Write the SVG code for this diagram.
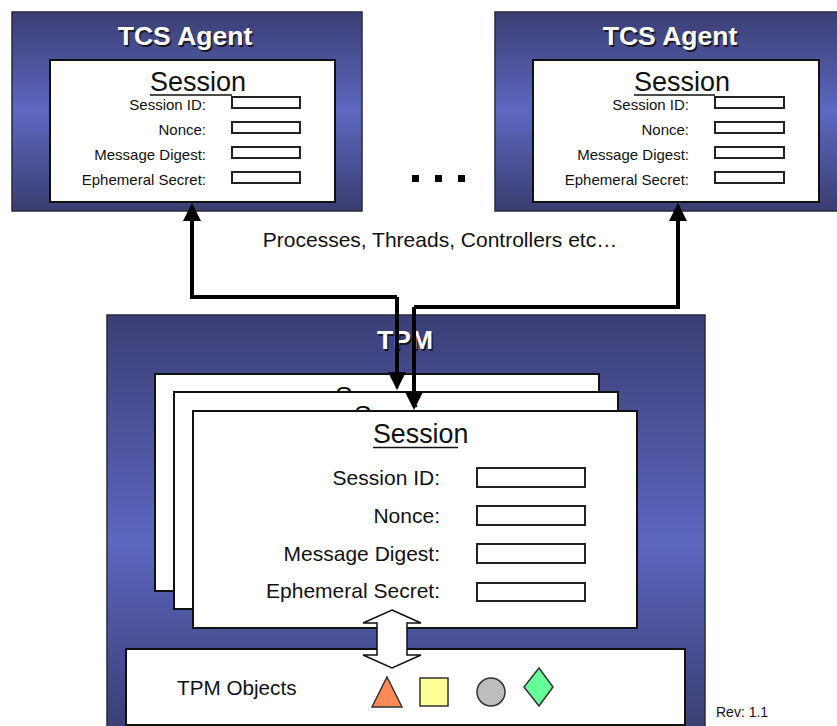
<svg xmlns="http://www.w3.org/2000/svg" width="837" height="726" viewBox="0 0 837 726">
  <defs>
    <linearGradient id="panelGrad" x1="0" y1="0" x2="0" y2="1">
      <stop offset="0" stop-color="#3a3e73"/>
      <stop offset="0.5" stop-color="#5d68c0"/>
      <stop offset="1" stop-color="#393d70"/>
    </linearGradient>
    <linearGradient id="tpmGrad" x1="0" y1="0" x2="0" y2="1">
      <stop offset="0" stop-color="#3b3f76"/>
      <stop offset="0.54" stop-color="#5b66bf"/>
      <stop offset="1" stop-color="#393d70"/>
    </linearGradient>
    <marker id="head" viewBox="0 0 10 10" refX="2.2" refY="5" markerWidth="18" markerHeight="18" orient="auto" markerUnits="userSpaceOnUse">
      <path d="M0,0 L10,5 L0,10 z" fill="#000"/>
    </marker>
  </defs>
  <style>
    .panel { stroke: #2a2a3a; stroke-width: 1.5; }
    .card { fill: #fff; stroke: #111; stroke-width: 2; }
    .field { fill: #fff; stroke: #222; stroke-width: 2; }
    .title { font-family: "Liberation Sans", Arial, sans-serif; font-weight: bold; font-size: 26.5px; text-anchor: middle; }
    .title-fg { fill: #fff; }
    .title-bg { fill: #1a1a22; }
    .sess { font-family: "Liberation Sans", Arial, sans-serif; fill: #111; }
    .lbl-s { font-family: "Liberation Sans", Arial, sans-serif; font-size: 15px; fill: #111; text-anchor: end; }
    .lbl-l { font-family: "Liberation Sans", Arial, sans-serif; font-size: 21px; fill: #111; text-anchor: end; }
    .ul { stroke: #111; stroke-width: 1.6; }
    .txt { font-family: "Liberation Sans", Arial, sans-serif; fill: #111; }
    .conn { fill: none; stroke: #000; stroke-width: 4; }
  </style>

  <!-- left agent -->
  <g id="agent-left">
    <rect class="panel" x="12" y="12" width="350" height="199" fill="url(#panelGrad)"/>
    <text class="title title-bg" x="186.5" y="46.5">TCS Agent</text>
    <text class="title title-fg" x="185" y="45">TCS Agent</text>
    <rect class="card" x="50" y="60" width="285" height="142"/>
    <text class="sess" x="150" y="91" font-size="27">Session</text>
    <line class="ul" x1="150" y1="95" x2="232" y2="95"/>
    <text class="lbl-s" x="206" y="110">Session ID:</text>
    <text class="lbl-s" x="206" y="135">Nonce:</text>
    <text class="lbl-s" x="206" y="160">Message Digest:</text>
    <text class="lbl-s" x="206" y="185">Ephemeral Secret:</text>
    <rect class="field" x="232" y="97" width="68" height="11"/>
    <rect class="field" x="232" y="122" width="68" height="11"/>
    <rect class="field" x="232" y="147" width="68" height="11"/>
    <rect class="field" x="232" y="172" width="68" height="11"/>
  </g>

  <!-- right agent -->
  <g id="agent-right">
    <rect class="panel" x="495" y="12" width="345" height="199" fill="url(#panelGrad)"/>
    <text class="title title-bg" x="671.5" y="46.5">TCS Agent</text>
    <text class="title title-fg" x="670" y="45">TCS Agent</text>
    <rect class="card" x="533" y="60" width="286" height="142"/>
    <text class="sess" x="634" y="91" font-size="27">Session</text>
    <line class="ul" x1="634" y1="95" x2="715" y2="95"/>
    <text class="lbl-s" x="689" y="110">Session ID:</text>
    <text class="lbl-s" x="689" y="135">Nonce:</text>
    <text class="lbl-s" x="689" y="160">Message Digest:</text>
    <text class="lbl-s" x="689" y="185">Ephemeral Secret:</text>
    <rect class="field" x="715" y="97" width="69" height="11"/>
    <rect class="field" x="715" y="122" width="69" height="11"/>
    <rect class="field" x="715" y="147" width="69" height="11"/>
    <rect class="field" x="715" y="172" width="69" height="11"/>
  </g>

  <!-- ellipsis between agents -->
  <g id="ellipsis" fill="#000">
    <rect x="412" y="175" width="7" height="7"/>
    <rect x="435" y="175" width="7" height="7"/>
    <rect x="458" y="175" width="7" height="7"/>
  </g>

  <g id="caption">
    <text class="txt" x="440" y="247" font-size="21" text-anchor="middle">Processes, Threads, Controllers etc…</text>
  </g>

  <!-- TPM -->
  <g id="tpm">
    <rect class="panel" x="107" y="315" width="598" height="420" fill="url(#tpmGrad)"/>
    <text class="title title-bg" x="406.5" y="350.5">TPM</text>
    <text class="title title-fg" x="405" y="349">TPM</text>
  </g>

  <g id="session-back-2">
    <rect class="card" x="155" y="374" width="444" height="217"/>
    <text class="sess" x="335" y="405" font-size="26.5">Session</text>
  </g>
  <g id="session-back-1">
    <rect class="card" x="174" y="392" width="444" height="217"/>
    <text class="sess" x="354" y="424" font-size="26.5">Session</text>
  </g>
  <g id="session-front">
    <rect class="card" x="193" y="411" width="444" height="217"/>
    <text class="sess" x="373" y="443" font-size="26.8">Session</text>
    <line class="ul" x1="373" y1="447.5" x2="458" y2="447.5"/>
    <text class="lbl-l" x="440" y="485">Session ID:</text>
    <text class="lbl-l" x="440" y="523">Nonce:</text>
    <text class="lbl-l" x="440" y="561">Message Digest:</text>
    <text class="lbl-l" x="440" y="598">Ephemeral Secret:</text>
    <rect class="field" x="477" y="468" width="108" height="19"/>
    <rect class="field" x="477" y="506" width="108" height="19"/>
    <rect class="field" x="477" y="544" width="108" height="19"/>
    <rect class="field" x="477" y="583" width="108" height="18"/>
  </g>

  <g id="tpm-objects">
    <rect class="card" x="126" y="649" width="559" height="76"/>
    <text class="txt" x="177" y="695" font-size="20.7">TPM Objects</text>
    <polygon points="387,677 402,707 372,707" fill="#fb8a55" stroke="#333" stroke-width="1.5"/>
    <rect x="420" y="678" width="28" height="28" fill="#ffff99" stroke="#333" stroke-width="1.5"/>
    <circle cx="491" cy="692" r="14" fill="#bdbdbd" stroke="#333" stroke-width="1.5"/>
    <polygon points="539,668 553,687 539,706 524,687" fill="#66ff99" stroke="#333" stroke-width="1.5"/>
  </g>

  <g id="rev">
    <text class="txt" x="716" y="717" font-size="14">Rev: 1.1</text>
  </g>

  <!-- connectors -->
  <g id="connectors">
    <path class="conn" d="M397,297 H192 V217" marker-end="url(#head)"/>
    <path class="conn" d="M397,297 V376" marker-end="url(#head)"/>
    <path class="conn" d="M414,307 H678 V217" marker-end="url(#head)"/>
    <path class="conn" d="M414,307 V396" marker-end="url(#head)"/>
    <path d="M392,610 L421,623 L407,623 L407,655 L421,655 L392,668 L363,655 L377,655 L377,623 L363,623 Z" fill="#fff" stroke="#111" stroke-width="1.5"/>
  </g>
</svg>
